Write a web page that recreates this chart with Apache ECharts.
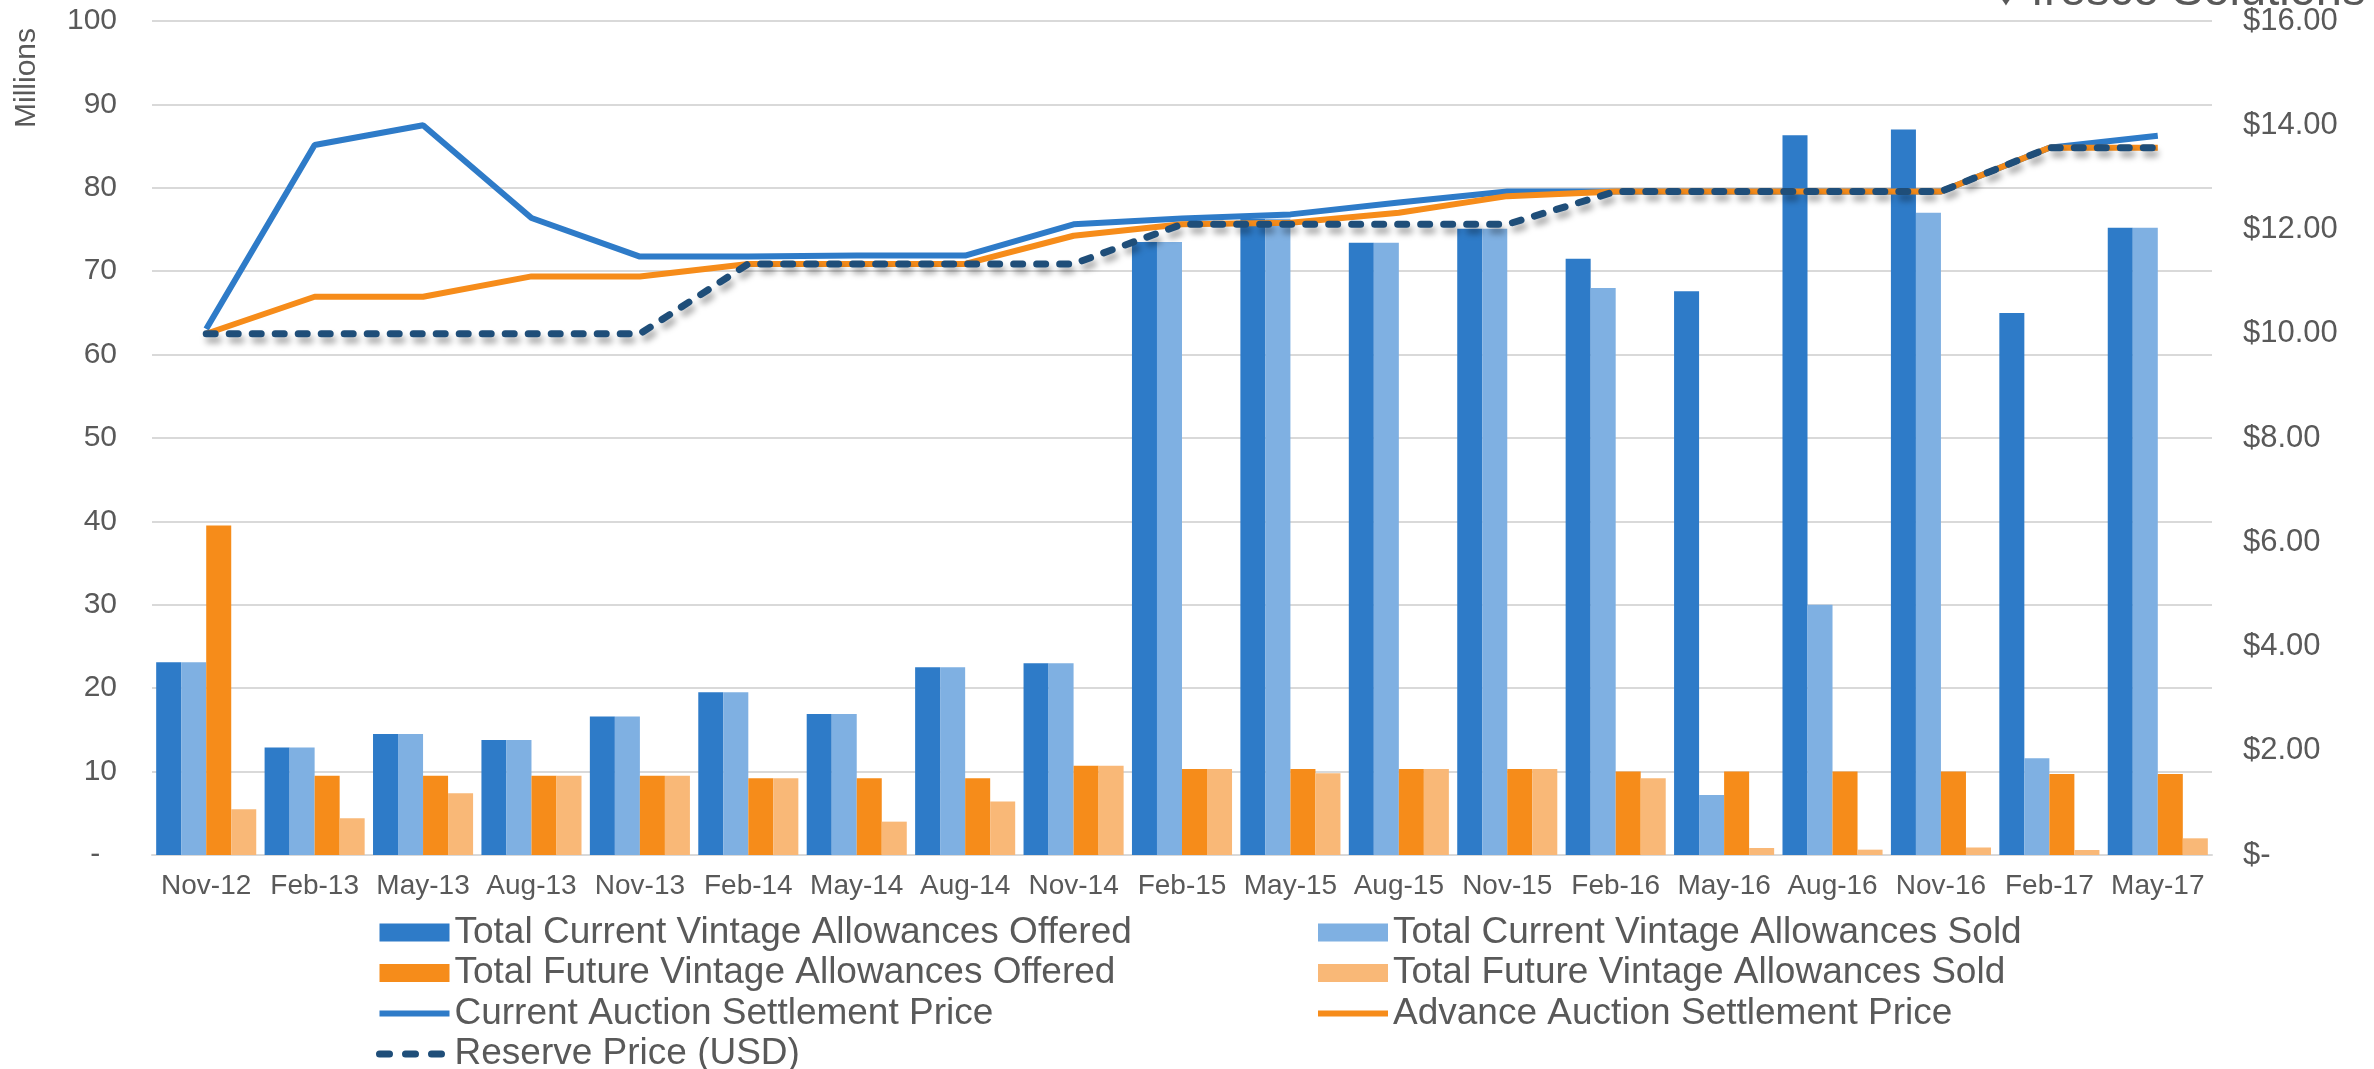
<!DOCTYPE html>
<html>
<head>
<meta charset="utf-8">
<script src="https://cdn.jsdelivr.net/npm/echarts@6/dist/echarts.min.js"></script>
<style>
html,body{margin:0;padding:0;background:#fff;}
#chart{width:2374px;height:1069px;}
</style>
</head>
<body>
<div id="chart"></div>
<script>
const categories = ['Nov-12','Feb-13','May-13','Aug-13','Nov-13','Feb-14','May-14','Aug-14','Nov-14','Feb-15','May-15','Aug-15','Nov-15','Feb-16','May-16','Aug-16','Nov-16','Feb-17','May-17'];
const currentOffered = [23.1, 12.9, 14.5, 13.8, 16.6, 19.5, 16.9, 22.5, 23.0, 73.5, 76.3, 73.4, 75.1, 71.5, 67.6, 86.3, 87.0, 65.0, 75.2];
const currentSold    = [23.1, 12.9, 14.5, 13.8, 16.6, 19.5, 16.9, 22.5, 23.0, 73.5, 76.3, 73.4, 75.1, 68.0, 7.2, 30.0, 77.0, 11.6, 75.2];
const futureOffered  = [39.5, 9.5, 9.5, 9.5, 9.5, 9.2, 9.2, 9.2, 10.7, 10.3, 10.3, 10.3, 10.3, 10.0, 10.0, 10.0, 10.0, 9.7, 9.7];
const futureSold     = [5.5, 4.4, 7.4, 9.5, 9.5, 9.2, 4.0, 6.4, 10.7, 10.3, 9.8, 10.3, 10.3, 9.2, 0.84, 0.64, 0.9, 0.6, 2.0];
const currentPrice   = [10.09, 13.62, 14.00, 12.22, 11.48, 11.48, 11.50, 11.50, 12.10, 12.21, 12.29, 12.52, 12.73, 12.73, 12.73, 12.73, 12.73, 13.57, 13.80];
const advancePrice   = [10.00, 10.71, 10.71, 11.10, 11.10, 11.34, 11.34, 11.34, 11.88, 12.10, 12.13, 12.32, 12.64, 12.73, 12.73, 12.73, 12.73, 13.57, 13.57];
const reservePrice   = [10.00, 10.00, 10.00, 10.00, 10.00, 11.34, 11.34, 11.34, 11.34, 12.10, 12.10, 12.10, 12.10, 12.73, 12.73, 12.73, 12.73, 13.57, 13.57];

const names = {
  co: 'Total Current Vintage Allowances Offered',
  cs: 'Total Current Vintage Allowances Sold',
  fo: 'Total Future Vintage Allowances Offered',
  fs: 'Total Future Vintage Allowances Sold',
  cp: 'Current Auction Settlement Price',
  ap: 'Advance Auction Settlement Price',
  rp: 'Reserve Price (USD)'
};
const FONT = "'Liberation Sans', Arial, sans-serif";
const TXT = '#595959';
const hideSym = {color: 'rgba(0,0,0,0)', borderWidth: 0, opacity: 0};

const chart = echarts.init(document.getElementById('chart'), null, {renderer: 'canvas'});
const legendCommon = {
  orient: 'vertical', itemWidth: 70, itemHeight: 18, itemGap: 1.5, height: 200,
  textStyle: {fontSize: 37, color: TXT, fontFamily: FONT, lineHeight: 39},
  selectedMode: false
};
chart.setOption({
  animation: false,
  backgroundColor: '#ffffff',
  textStyle: {fontFamily: FONT},
  grid: {left: 152, right: 162, top: 21, bottom: 214, containLabel: false},
  graphic: [
    {type: 'text', left: 12, top: 28, rotation: Math.PI / 2,
     style: {text: 'Millions', fontSize: 30, fill: TXT, fontFamily: FONT}},
    {type: 'text', x: 1994, y: -8,
     style: {text: '\u2666 fresco Solutions', fontSize: 47, fill: TXT, fontFamily: FONT, verticalAlign: 'middle'}}
  ],
  legend: [
    Object.assign({left: 371, top: 908, data: [
      {name: names.co, icon: 'rect'}, {name: names.fo, icon: 'rect'},
      {name: names.cp, itemStyle: hideSym, lineStyle: {width: 6, color: '#2E7BC8'}},
      {name: names.rp, itemStyle: hideSym, lineStyle: {width: 7, color: '#1F4E79', type: [10, 16], cap: 'round'}}
    ]}, legendCommon),
    Object.assign({left: 1310, top: 908, data: [
      {name: names.cs, icon: 'rect'}, {name: names.fs, icon: 'rect'},
      {name: names.ap, itemStyle: hideSym, lineStyle: {width: 6, color: '#F68C1A'}}
    ]}, legendCommon)
  ],
  xAxis: {
    type: 'category', data: categories,
    axisTick: {show: false},
    axisLine: {lineStyle: {color: '#D9D9D9', width: 2}},
    axisLabel: {fontSize: 28, color: TXT, margin: 17, fontFamily: FONT, interval: 0}
  },
  yAxis: [
    {type: 'value', min: 0, max: 100, interval: 10,
     axisLine: {show: false}, axisTick: {show: false},
     splitLine: {lineStyle: {color: '#D9D9D9', width: 2}},
     axisLabel: {fontSize: 30, color: TXT, margin: 35, fontFamily: FONT,
       formatter: v => v === 0 ? '-  ' : String(v)}},
    {type: 'value', min: 0, max: 16, interval: 2,
     axisLine: {show: false}, axisTick: {show: false}, splitLine: {show: false},
     axisLabel: {fontSize: 31, color: TXT, margin: 31, fontFamily: FONT, align: 'left',
       formatter: v => v === 0 ? '$-' : '$' + v.toFixed(2)}}
  ],
  series: [
    {name: names.co, type: 'bar', data: currentOffered, itemStyle: {color: '#2E7BC8'}, barGap: '0%', barCategoryGap: '7.7%'},
    {name: names.cs, type: 'bar', data: currentSold, itemStyle: {color: '#7FB0E2'}},
    {name: names.fo, type: 'bar', data: futureOffered, itemStyle: {color: '#F68C1A'}},
    {name: names.fs, type: 'bar', data: futureSold, itemStyle: {color: '#F9B877'}},
    {name: names.cp, type: 'line', yAxisIndex: 1, data: currentPrice, symbol: 'none',
     lineStyle: {color: '#2E7BC8', width: 6}, itemStyle: {color: '#2E7BC8'}},
    {name: names.ap, type: 'line', yAxisIndex: 1, data: advancePrice, symbol: 'none',
     lineStyle: {color: '#F68C1A', width: 6}, itemStyle: {color: '#F68C1A'}},
    {name: names.rp, type: 'line', yAxisIndex: 1, data: reservePrice, symbol: 'none',
     lineStyle: {color: '#1F4E79', width: 7, type: [9, 14], cap: 'round',
       shadowColor: 'rgba(0,0,0,0.35)', shadowBlur: 6, shadowOffsetX: 3, shadowOffsetY: 6},
     itemStyle: {color: '#1F4E79'}}
  ]
});
</script>
</body>
</html>
